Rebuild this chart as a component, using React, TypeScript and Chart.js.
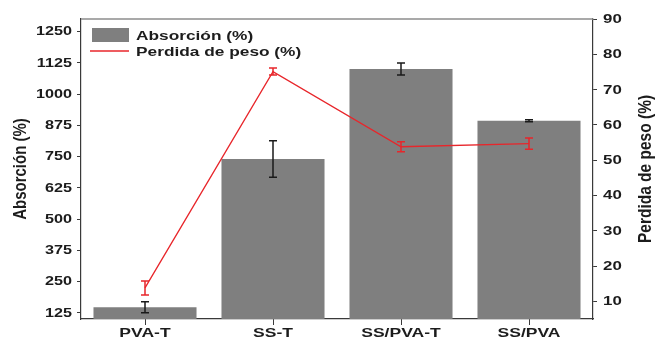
import React, { useEffect, useRef } from "react";
import { Chart, registerables } from "chart.js";

Chart.register(...registerables);

const CATEGORIES = ["PVA-T", "SS-T", "SS/PVA-T", "SS/PVA"];
const ABSORCION = [147, 740, 1100, 893];
const ABSORCION_ERR = [22, 73, 24, 4];
const PERDIDA = [13.8, 75.1, 53.8, 54.7];
const PERDIDA_ERR = [2.0, 1.0, 1.4, 1.6];
const ABS_TICKS = [125, 250, 375, 500, 625, 750, 875, 1000, 1125, 1250];
const PESO_TICKS = [10, 20, 30, 40, 50, 60, 70, 80, 90];

const FONT = '"Liberation Sans", Arial, sans-serif';
const STRETCH = 1.35;
const AXIS_COLOR = "#3a3a3a";
const TEXT_COLOR = "#1c1c1c";
const BAR_COLOR = "#7f7f7f";
const LINE_COLOR = "#e8262b";

function stretchText(
  ctx: CanvasRenderingContext2D,
  text: string,
  x: number,
  y: number,
  align: CanvasTextAlign,
  baseline: CanvasTextBaseline,
  sx: number
) {
  ctx.save();
  ctx.translate(x, y);
  ctx.scale(sx, 1);
  ctx.textAlign = align;
  ctx.textBaseline = baseline;
  ctx.fillText(text, 0, 0);
  ctx.restore();
}

const customPlugin = {
  id: "customDecor",
  afterDatasetsDraw(chart: any) {
    const ctx: CanvasRenderingContext2D = chart.ctx;
    const yS = chart.scales.y;
    const y1S = chart.scales.y1;
    const barMeta = chart.getDatasetMeta(0);
    const lineMeta = chart.getDatasetMeta(1);
    const cap = 4;
    ctx.save();
    // bar error bars
    ctx.strokeStyle = "#1a1a1a";
    ctx.lineWidth = 1.5;
    barMeta.data.forEach((el: any, i: number) => {
      const x = el.x;
      const top = yS.getPixelForValue(ABSORCION[i] + ABSORCION_ERR[i]);
      const bot = yS.getPixelForValue(ABSORCION[i] - ABSORCION_ERR[i]);
      ctx.beginPath();
      ctx.moveTo(x, top);
      ctx.lineTo(x, bot);
      ctx.moveTo(x - cap, top);
      ctx.lineTo(x + cap, top);
      ctx.moveTo(x - cap, bot);
      ctx.lineTo(x + cap, bot);
      ctx.stroke();
    });
    // line error bars
    ctx.strokeStyle = LINE_COLOR;
    lineMeta.data.forEach((el: any, i: number) => {
      const x = el.x;
      const top = y1S.getPixelForValue(PERDIDA[i] + PERDIDA_ERR[i]);
      const bot = y1S.getPixelForValue(PERDIDA[i] - PERDIDA_ERR[i]);
      ctx.beginPath();
      ctx.moveTo(x, top);
      ctx.lineTo(x, bot);
      ctx.moveTo(x - cap, top);
      ctx.lineTo(x + cap, top);
      ctx.moveTo(x - cap, bot);
      ctx.lineTo(x + cap, bot);
      ctx.stroke();
    });
    ctx.restore();
  },
  afterDraw(chart: any) {
    const ctx: CanvasRenderingContext2D = chart.ctx;
    const area = chart.chartArea;
    const yS = chart.scales.y;
    const y1S = chart.scales.y1;
    const xS = chart.scales.x;
    ctx.save();
    // frame top
    ctx.strokeStyle = "#8c8c8c";
    ctx.lineWidth = 1.5;
    ctx.beginPath();
    ctx.moveTo(area.left, area.top);
    ctx.lineTo(area.right, area.top);
    ctx.stroke();

    ctx.fillStyle = TEXT_COLOR;
    // left tick labels
    ctx.font = `bold 12px ${FONT}`;
    yS.ticks.forEach((t: any) => {
      const y = yS.getPixelForValue(t.value);
      stretchText(ctx, String(t.value), area.left - 9, y + 0.5, "right", "middle", STRETCH);
    });
    // right tick labels
    ctx.font = `bold 12.5px ${FONT}`;
    y1S.ticks.forEach((t: any) => {
      const y = y1S.getPixelForValue(t.value);
      stretchText(ctx, String(t.value), area.right + 10, y + 0.5, "left", "middle", STRETCH);
    });
    // x labels
    ctx.font = `bold 13px ${FONT}`;
    CATEGORIES.forEach((c, i) => {
      const x = xS.getPixelForValue(i);
      stretchText(ctx, c, x, area.bottom + 18, "center", "alphabetic", STRETCH);
    });

    // axis titles
    const cy = (area.top + area.bottom) / 2;
    ctx.font = `bold 15px ${FONT}`;
    ctx.save();
    ctx.translate(21, cy);
    ctx.rotate(-Math.PI / 2);
    ctx.scale(1, 1.2);
    ctx.textAlign = "center";
    ctx.textBaseline = "middle";
    ctx.fillText("Absorción (%)", 0, 0);
    ctx.restore();

    ctx.font = `bold 15.5px ${FONT}`;
    ctx.save();
    ctx.translate(646, cy);
    ctx.rotate(-Math.PI / 2);
    ctx.scale(1, 1.2);
    ctx.textAlign = "center";
    ctx.textBaseline = "middle";
    ctx.fillText("Perdida de peso (%)", 0, 0);
    ctx.restore();

    // legend
    const lx = area.left + 11;
    ctx.fillStyle = BAR_COLOR;
    ctx.fillRect(lx, area.top + 9, 37, 14);
    ctx.strokeStyle = LINE_COLOR;
    ctx.lineWidth = 1.3;
    ctx.beginPath();
    ctx.moveTo(lx - 2, area.top + 32);
    ctx.lineTo(lx + 37, area.top + 32);
    ctx.stroke();
    ctx.fillStyle = TEXT_COLOR;
    ctx.font = `bold 13px ${FONT}`;
    stretchText(ctx, chart.data.datasets[0].label, lx + 44, area.top + 20.5, "left", "alphabetic", 1.33);
    stretchText(ctx, chart.data.datasets[1].label, lx + 44, area.top + 37, "left", "alphabetic", 1.33);
    ctx.restore();
  },
};

export default function App() {
  const ref = useRef<HTMLCanvasElement | null>(null);
  useEffect(() => {
    if (!ref.current) return;
    const chart = new Chart(ref.current, {
      type: "bar",
      data: {
        labels: CATEGORIES,
        datasets: [
          {
            type: "bar",
            label: "Absorción (%)",
            data: ABSORCION,
            backgroundColor: BAR_COLOR,
            borderWidth: 0,
            yAxisID: "y",
            barPercentage: 0.805,
            categoryPercentage: 1,
            order: 2,
          } as any,
          {
            type: "line",
            label: "Perdida de peso (%)",
            data: PERDIDA,
            borderColor: LINE_COLOR,
            borderWidth: 1.3,
            pointRadius: 0,
            tension: 0,
            fill: false,
            yAxisID: "y1",
            order: 1,
          } as any,
        ],
      },
      options: {
        responsive: false,
        animation: false,
        layout: { padding: { top: 19, left: 0, right: 0, bottom: 0 } },
        plugins: { legend: { display: false }, tooltip: { enabled: false }, title: { display: false } },
        scales: {
          x: {
            type: "category",
            offset: true,
            grid: { display: true, drawOnChartArea: false, tickLength: 6, color: AXIS_COLOR, offset: false },
            border: { display: true, color: AXIS_COLOR, width: 1.2 },
            ticks: { display: false },
            afterFit: (s: any) => {
              s.height = 19;
            },
          },
          y: {
            type: "linear",
            position: "left",
            min: 100,
            max: 1300,
            grid: { display: true, drawOnChartArea: false, tickLength: 4, color: AXIS_COLOR },
            border: { display: true, color: AXIS_COLOR, width: 1.2 },
            ticks: { display: false },
            afterBuildTicks: (s: any) => {
              s.ticks = ABS_TICKS.map((v) => ({ value: v }));
            },
            afterFit: (s: any) => {
              s.width = 81;
            },
          },
          y1: {
            type: "linear",
            position: "right",
            min: 5,
            max: 90,
            grid: { display: true, drawOnChartArea: false, tickLength: 4, color: AXIS_COLOR },
            border: { display: true, color: AXIS_COLOR, width: 1.2 },
            ticks: { display: false },
            afterBuildTicks: (s: any) => {
              s.ticks = PESO_TICKS.map((v) => ({ value: v }));
            },
            afterFit: (s: any) => {
              s.width = 64;
            },
          },
        },
      } as any,
      plugins: [customPlugin],
    });
    return () => chart.destroy();
  }, []);
  return (
    <div style={{ position: "fixed", left: 0, top: 0, width: 657, height: 338, background: "#fff" }}>
      <canvas ref={ref} width={657} height={338} style={{ display: "block" }} />
    </div>
  );
}
